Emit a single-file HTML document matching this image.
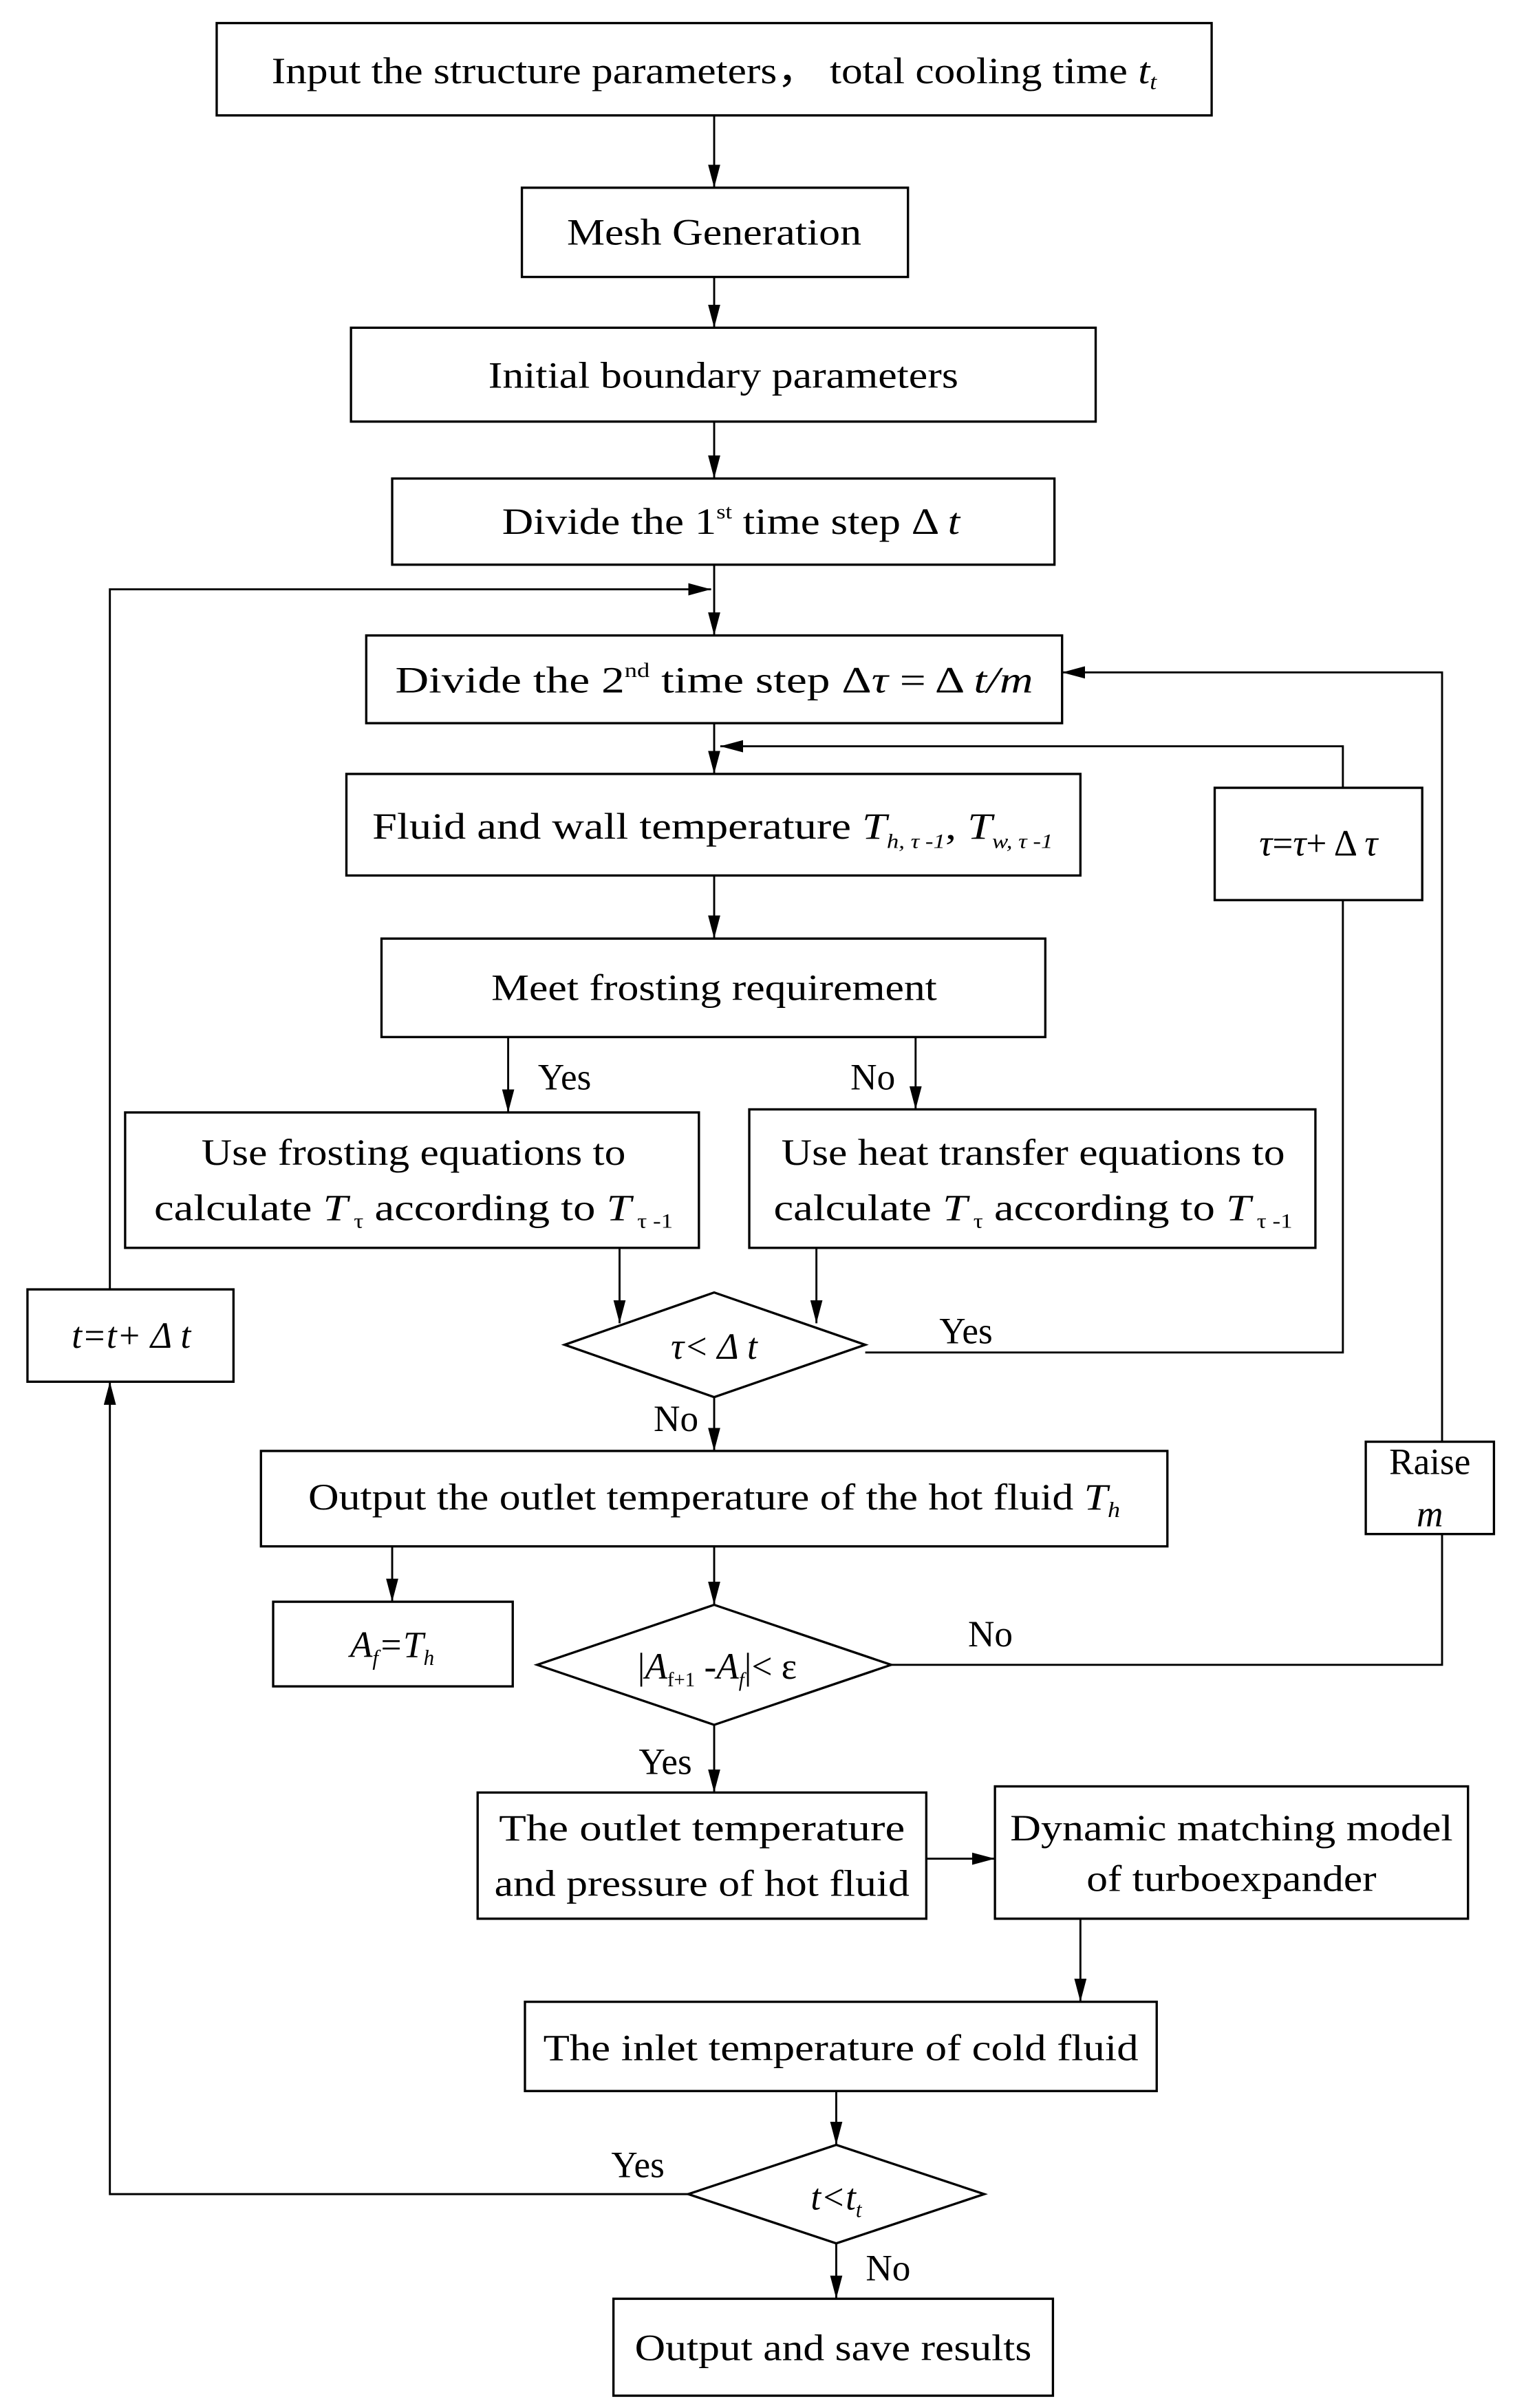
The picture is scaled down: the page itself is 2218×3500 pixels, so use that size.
<!DOCTYPE html>
<html><head><meta charset="utf-8"><style>
html,body{margin:0;padding:0;background:#fff}
svg{display:block}
text{font-family:"Liberation Serif",serif;fill:#000}
</style></head><body>
<svg width="2218" height="3500" viewBox="0 0 1000 1565" preserveAspectRatio="none" xmlns="http://www.w3.org/2000/svg">
<defs><marker id="a" viewBox="0 0 10 10" refX="10" refY="5" markerWidth="15" markerHeight="8" markerUnits="userSpaceOnUse" orient="auto" preserveAspectRatio="none"><path d="M0,0L10,5L0,10z" fill="#000"/></marker></defs>
<g fill="none" stroke="#000" stroke-width="1.5">
<rect x="142" y="15" width="652" height="60"/>
<rect x="342" y="122" width="253" height="58"/>
<rect x="230" y="213" width="488" height="61"/>
<rect x="257" y="311" width="434" height="56"/>
<rect x="240" y="413" width="456" height="57"/>
<rect x="227" y="503" width="481" height="66"/>
<rect x="250" y="610" width="435" height="64"/>
<rect x="82" y="723" width="376" height="88"/>
<rect x="491" y="721" width="371" height="90"/>
<polygon points="370,874 468,840 567,874 468,908"/>
<rect x="171" y="943" width="594" height="62"/>
<rect x="179" y="1041" width="157" height="55"/>
<polygon points="352,1082 468,1043 584,1082 468,1121"/>
<rect x="313" y="1165" width="294" height="82"/>
<rect x="652" y="1161" width="310" height="86"/>
<rect x="344" y="1301" width="414" height="58"/>
<polygon points="451,1426 548,1394 645,1426 548,1458"/>
<rect x="402" y="1494" width="288" height="63"/>
<rect x="796" y="512" width="136" height="73"/>
<rect x="18" y="838" width="135" height="60"/>
<rect x="895" y="937" width="84" height="60"/>
</g>
<g fill="none" stroke="#000" stroke-width="1.3" marker-end="url(#a)">
<line x1="468" y1="75" x2="468" y2="122"/>
<line x1="468" y1="180" x2="468" y2="213"/>
<line x1="468" y1="274" x2="468" y2="311"/>
<line x1="468" y1="367" x2="468" y2="413"/>
<polyline points="72,838 72,383 466,383"/>
<line x1="468" y1="470" x2="468" y2="503"/>
<polyline points="880,512 880,485 472,485"/>
<line x1="468" y1="569" x2="468" y2="610"/>
<line x1="333" y1="674" x2="333" y2="723"/>
<line x1="600" y1="674" x2="600" y2="721"/>
<line x1="406" y1="811" x2="406" y2="860"/>
<line x1="535" y1="811" x2="535" y2="860"/>
<line x1="468" y1="908" x2="468" y2="943"/>
<line x1="257" y1="1005" x2="257" y2="1041"/>
<line x1="468" y1="1005" x2="468" y2="1043"/>
<polyline points="945,937 945,437 696,437"/>
<line x1="468" y1="1121" x2="468" y2="1165"/>
<line x1="607" y1="1208" x2="652" y2="1208"/>
<line x1="708" y1="1247" x2="708" y2="1301"/>
<line x1="548" y1="1359" x2="548" y2="1394"/>
<line x1="548" y1="1458" x2="548" y2="1494"/>
<polyline points="451,1426 72,1426 72,898"/>
</g>
<g fill="none" stroke="#000" stroke-width="1.3">
<polyline points="880,585 880,879 567,879"/>
<polyline points="584,1082 945,1082 945,997"/>
</g>
<g font-size="24" text-anchor="middle">
<text x="468" y="54" textLength="580" lengthAdjust="spacingAndGlyphs">Input the structure parameters， total cooling time <tspan font-style="italic">t<tspan font-size="14" dy="4">t</tspan></tspan></text>
<text x="468" y="159" textLength="193" lengthAdjust="spacingAndGlyphs">Mesh Generation</text>
<text x="474" y="252" textLength="308" lengthAdjust="spacingAndGlyphs">Initial boundary parameters</text>
<text x="479" y="347" textLength="300" lengthAdjust="spacingAndGlyphs">Divide the 1<tspan font-size="13" dy="-10">st</tspan><tspan dy="10"> time step  Δ </tspan><tspan font-style="italic">t</tspan></text>
<text x="468" y="450" textLength="418" lengthAdjust="spacingAndGlyphs">Divide  the 2<tspan font-size="13" dy="-10">nd</tspan><tspan dy="10">  time step  Δ</tspan><tspan font-style="italic">τ</tspan> = Δ <tspan font-style="italic">t/m</tspan></text>
<text x="467" y="545" textLength="446" lengthAdjust="spacingAndGlyphs">Fluid and wall temperature <tspan font-style="italic">T<tspan font-size="13" dy="6">h, τ -1</tspan></tspan><tspan dy="-6">, </tspan><tspan font-style="italic">T<tspan font-size="13" dy="6">w, τ -1</tspan></tspan></text>
<text x="468" y="650" textLength="292" lengthAdjust="spacingAndGlyphs">Meet frosting requirement</text>
<text x="271" y="757" textLength="278" lengthAdjust="spacingAndGlyphs">Use frosting equations to</text>
<text x="271" y="793" textLength="340" lengthAdjust="spacingAndGlyphs">calculate <tspan font-style="italic">T</tspan><tspan font-size="13" dy="5"> τ</tspan><tspan dy="-5"> according to </tspan><tspan font-style="italic">T</tspan><tspan font-size="13" dy="5"> τ -1</tspan></text>
<text x="677" y="757" textLength="330" lengthAdjust="spacingAndGlyphs">Use heat transfer equations to</text>
<text x="677" y="793" textLength="340" lengthAdjust="spacingAndGlyphs">calculate <tspan font-style="italic">T</tspan><tspan font-size="13" dy="5"> τ</tspan><tspan dy="-5"> according to </tspan><tspan font-style="italic">T</tspan><tspan font-size="13" dy="5"> τ -1</tspan></text>
<text x="468" y="883" font-style="italic">τ&lt; Δ <tspan>t</tspan></text>
<text x="468" y="981" textLength="532" lengthAdjust="spacingAndGlyphs">Output the outlet temperature of the hot fluid <tspan font-style="italic">T<tspan font-size="14" dy="5">h</tspan></tspan></text>
<text x="257" y="1077" font-style="italic">A<tspan font-size="14" dy="5">f</tspan><tspan dy="-5">=T</tspan><tspan font-size="14" dy="5">h</tspan></text>
<text x="470" y="1091">|<tspan font-style="italic">A</tspan><tspan font-size="13" dy="5">f+1</tspan><tspan dy="-5"> -</tspan><tspan font-style="italic">A</tspan><tspan font-size="13" dy="5" font-style="italic">f</tspan><tspan dy="-5">|&lt;  ε</tspan></text>
<text x="460" y="1196" textLength="266" lengthAdjust="spacingAndGlyphs">The outlet  temperature</text>
<text x="460" y="1232" textLength="272" lengthAdjust="spacingAndGlyphs">and pressure of hot fluid</text>
<text x="807" y="1196" textLength="290" lengthAdjust="spacingAndGlyphs">Dynamic matching model</text>
<text x="807" y="1229" textLength="190" lengthAdjust="spacingAndGlyphs">of turboexpander</text>
<text x="551" y="1339" textLength="390" lengthAdjust="spacingAndGlyphs">The inlet  temperature of cold fluid</text>
<text x="548" y="1436" font-style="italic">t&lt;t<tspan font-size="14" dy="5">t</tspan></text>
<text x="546" y="1534" textLength="260" lengthAdjust="spacingAndGlyphs">Output and save results</text>
<text x="864" y="556"><tspan font-style="italic">τ</tspan>=<tspan font-style="italic">τ</tspan>+ Δ <tspan font-style="italic">τ</tspan></text>
<text x="86" y="876" font-style="italic">t=t+ Δ t</text>
<text x="937" y="958">Raise</text>
<text x="937" y="992" font-style="italic">m</text>
<text x="370" y="708">Yes</text>
<text x="572" y="708">No</text>
<text x="633" y="873">Yes</text>
<text x="443" y="930">No</text>
<text x="649" y="1070">No</text>
<text x="436" y="1153">Yes</text>
<text x="418" y="1415">Yes</text>
<text x="582" y="1482">No</text>
</g>
</svg>
</body></html>
